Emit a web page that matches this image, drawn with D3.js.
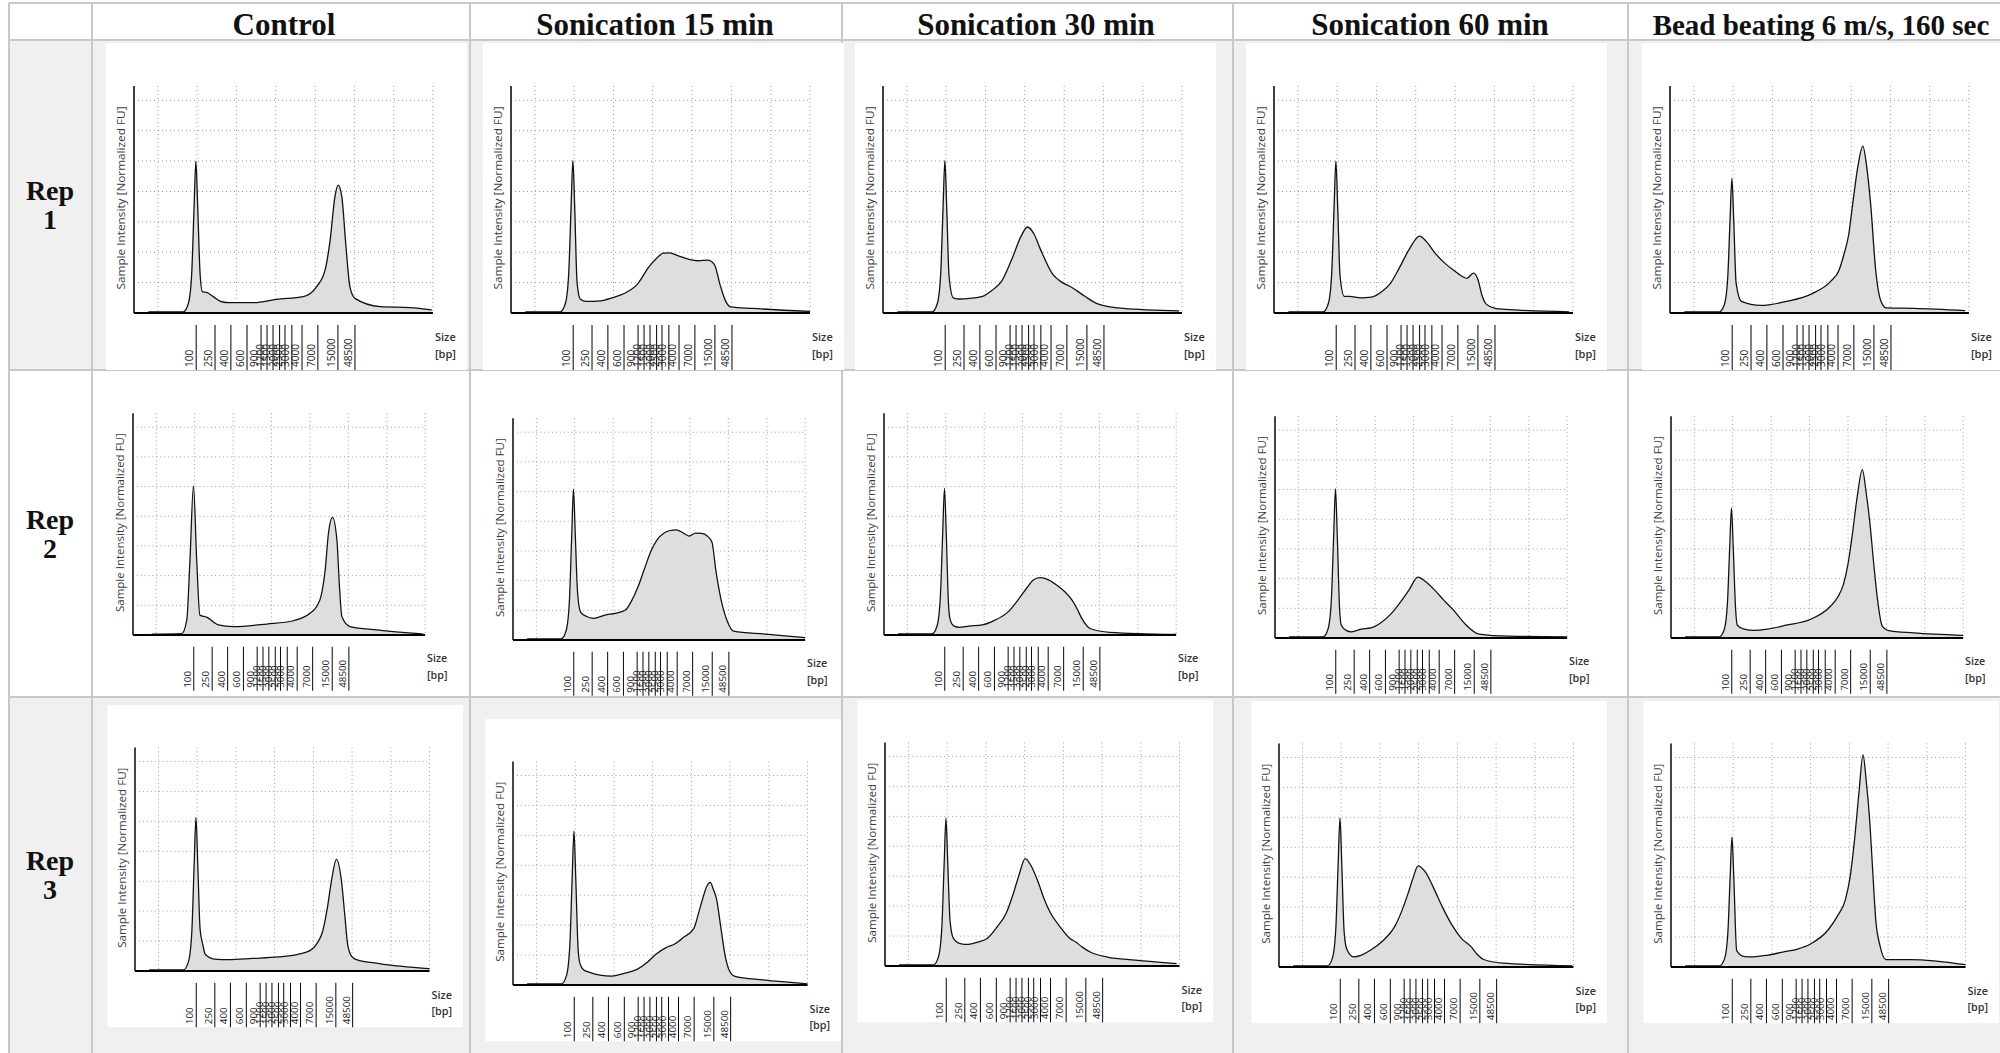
<!DOCTYPE html>
<html lang="en">
<head>
<meta charset="utf-8">
<style>
    body { margin: 0; background: #fff; }
    svg { display: block; }
    .head { font-family: "Liberation Serif", "Times New Roman", serif; font-weight: bold; fill: #111; }
    .ui { font-family: "Open Sans", "Noto Sans", sans-serif; }
    .grid { stroke: #9a9a9a; stroke-width: 1; stroke-dasharray: 1,3; fill: none; }
</style>
<script src="https://d3js.org/d3.v7.min.js"></script>
</head>
<body>
<svg width="2000" height="1053"></svg>
<script>
    // ---- data ----
    var conditions = ["Control", "Sonication 15 min", "Sonication 30 min", "Sonication 60 min", "Bead beating 6 m/s, 160 sec"];
    var replicates = ["1", "2", "3"];

    // genomic DNA ladder (bp) and where each band sits on the run axis (0-100)
    var ladderSizes = [100, 250, 400, 600, 900, 1200, 1500, 2000, 2500, 3000, 4000, 7000, 15000, 48500];
    var ladderRun = [20.8, 27.1, 32.4, 37.8, 42.5, 44.5, 46.5, 48.7, 50.5, 52.8, 56.2, 61.5, 68.2, 73.9];

    var gridRun = [8, 21.1, 34.3, 47.4, 60.6, 73.7, 86.9, 100];
    var gridFU = [1, 2, 3, 4, 5, 6, 7];

    // traces: [run position, normalized FU]
    var control1 = [[4.8,0.04],[16.5,0.04],[18.2,0.32],[19.3,1.3],[20.1,3.5],[20.7,5.0],[21.3,3.5],[22.1,1.3],[22.9,0.7],[24.3,0.68],[26.5,0.54],[29.3,0.37],[32.1,0.34],[39.9,0.34],[47.7,0.45],[56.6,0.54],[61.1,0.87],[63.9,1.41],[65.6,2.4],[67.2,3.83],[68.3,4.21],[69.5,3.83],[70.9,2.18],[72.2,0.87],[73.9,0.48],[82.3,0.21],[92.3,0.18],[99.6,0.1]];
    var son15Rep1 = [[4.8,0.04],[16.5,0.04],[18.2,0.32],[19.3,1.3],[20.1,3.5],[20.7,5.02],[21.3,3.5],[22.1,1.0],[23.2,0.45],[25.2,0.38],[30,0.4],[33.8,0.5],[38,0.65],[42.3,0.95],[46,1.5],[48.7,1.8],[51,1.97],[53,1.98],[56,1.88],[59.4,1.77],[62.5,1.72],[65.8,1.74],[68,1.6],[70,0.9],[72,0.35],[73.5,0.2],[80.8,0.15],[100,0.05]];
    var son30Rep1 = [[4.8,0.04],[16.5,0.04],[18.2,0.32],[19.3,1.3],[20.1,3.5],[20.7,5.02],[21.3,3.5],[22.1,1.2],[23.5,0.5],[25.6,0.46],[29,0.48],[33.3,0.55],[36.5,0.75],[39.7,1.05],[43,1.75],[46.2,2.53],[48.3,2.83],[50.5,2.6],[52.6,2.11],[56.8,1.27],[60,1.0],[63.2,0.84],[67.5,0.55],[71.8,0.3],[80.3,0.15],[99,0.07]];
    var son60Rep1 = [[4.8,0.04],[16.5,0.04],[18.2,0.32],[19.3,1.3],[20.1,3.5],[20.7,5.0],[21.3,3.5],[22.1,1.2],[23.5,0.55],[25.2,0.55],[29,0.5],[32.5,0.52],[36,0.7],[38.9,0.97],[42,1.5],[45.3,2.11],[48.7,2.53],[51,2.35],[53.8,1.98],[57,1.65],[60.3,1.39],[63,1.2],[64.5,1.14],[66.7,1.31],[68.2,1.1],[69.5,0.6],[70.9,0.3],[74,0.15],[77.4,0.12],[98.7,0.04]];
    var beadRep1 = [[4.8,0.04],[16.5,0.04],[18.2,0.28],[19.3,1.15],[20.1,3.1],[20.7,4.43],[21.3,3.1],[22.1,1.0],[23.9,0.38],[30.3,0.25],[38.9,0.38],[47.4,0.63],[53.8,1.05],[56.5,1.4],[58.1,1.9],[59.8,2.6],[61.1,3.59],[62.8,4.8],[64.5,5.49],[65.8,4.8],[67.1,3.59],[68.8,1.4],[70.5,0.4],[72.2,0.17],[81.6,0.15],[98.7,0.08]];

    var control2 = [[6.4,0.03],[16.7,0.05],[18.4,0.5],[19.5,2.53],[20.7,5.02],[21.8,2.53],[22.9,0.67],[25.2,0.6],[29.2,0.34],[34.3,0.28],[45.8,0.37],[54.9,0.48],[60.6,0.73],[62.8,0.95],[64.6,1.4],[65.8,2.2],[66.9,3.42],[68.3,3.96],[69.8,3.2],[70.7,1.6],[71.5,0.62],[74.3,0.28],[83.5,0.17],[99.4,0.03]];
    var son15Rep2 = [[4.8,0.04],[16.5,0.04],[18.2,0.32],[19.3,1.3],[20.1,3.5],[20.7,5.08],[21.3,3.6],[22.1,1.6],[23.1,0.95],[25,0.8],[27.5,0.73],[31.9,0.85],[35,0.9],[38.4,1.0],[40.5,1.3],[42.8,1.79],[45,2.4],[47.2,2.99],[49.5,3.4],[51.5,3.59],[53.5,3.68],[55.9,3.71],[58,3.62],[60.3,3.5],[62.5,3.6],[64.6,3.59],[66.5,3.5],[68.1,3.3],[69.5,2.3],[71.2,1.37],[73.5,0.6],[75.5,0.3],[86.5,0.2],[100,0.08]];
    var son30Rep2 = [[4.8,0.04],[16.5,0.04],[18.2,0.32],[19.3,1.3],[20.1,3.45],[20.7,4.94],[21.3,3.45],[22.1,1.0],[22.7,0.5],[24,0.3],[25.8,0.26],[29,0.3],[33.6,0.34],[38,0.5],[42.4,0.77],[46.7,1.29],[49,1.6],[51.1,1.85],[53.3,1.93],[56.5,1.85],[59.8,1.63],[62,1.45],[64.2,1.2],[66,0.9],[67.7,0.56],[70.7,0.21],[77.3,0.09],[100,0.02]];
    var son60Rep2 = [[4.8,0.04],[16.5,0.04],[18.2,0.32],[19.3,1.3],[20.1,3.5],[20.7,5.02],[21.3,3.5],[22.1,1.0],[22.7,0.43],[24.5,0.25],[26.2,0.21],[29.5,0.3],[32.8,0.34],[36,0.5],[39.3,0.77],[42.5,1.15],[45.9,1.62],[48.9,2.05],[51.5,1.9],[54.6,1.62],[58,1.25],[61.1,0.94],[63.5,0.65],[65.5,0.43],[69.9,0.13],[80,0.06],[100,0.04]];
    var beadRep2 = [[4.8,0.04],[16.5,0.04],[18.2,0.28],[19.3,1.14],[20.1,3.07],[20.7,4.38],[21.3,3.07],[22.1,1.0],[22.7,0.43],[25,0.3],[28.4,0.26],[33,0.3],[39.3,0.43],[48,0.64],[54.6,1.07],[57.2,1.4],[59,1.8],[60.6,2.5],[62,3.43],[63.8,4.8],[65.5,5.67],[66.8,4.9],[68.1,3.86],[69.4,2.5],[70.7,1.29],[72.3,0.4],[74.2,0.26],[83,0.17],[100,0.09]];

    var control3 = [[4.8,0.04],[16.5,0.04],[18.2,0.33],[19.3,1.33],[20.1,3.6],[20.7,5.13],[21.3,3.6],[22.1,1.4],[23,0.89],[23.9,0.55],[27,0.4],[31.6,0.38],[40,0.42],[48.7,0.47],[55,0.55],[59.4,0.68],[62,0.95],[63.7,1.32],[65.3,2.1],[66.7,3.01],[68.4,3.73],[70.1,3.01],[71.2,1.9],[72.2,0.89],[73.5,0.5],[75.2,0.38],[82.9,0.25],[100,0.08]];
    var son15Rep3 = [[4.8,0.04],[16.5,0.04],[18.2,0.33],[19.3,1.34],[20.1,3.6],[20.7,5.15],[21.3,3.6],[22.1,1.2],[22.7,0.73],[24,0.5],[25.8,0.43],[29.5,0.33],[33.5,0.3],[38,0.4],[42.1,0.52],[45.5,0.75],[48.5,1.03],[52,1.25],[54.9,1.37],[58,1.6],[61.4,1.89],[63,2.4],[64.4,2.88],[65.8,3.3],[67,3.43],[68,3.2],[69.1,2.88],[70.6,1.9],[72.1,0.94],[73.6,0.45],[75.1,0.3],[85,0.17],[100,0.04]];
    var son30Rep3 = [[4.8,0.04],[16.5,0.04],[18.2,0.32],[19.3,1.3],[20.1,3.45],[20.7,4.94],[21.3,3.45],[22.1,1.5],[23.2,0.93],[25.5,0.75],[28.3,0.72],[31.5,0.8],[34.8,0.93],[38,1.3],[41.2,1.77],[43.5,2.4],[45.5,3.04],[47.6,3.59],[49.6,3.35],[51.9,2.83],[54,2.25],[56.2,1.77],[59.5,1.3],[62.7,0.93],[64.8,0.8],[67,0.63],[70,0.45],[75.5,0.3],[85,0.2],[99,0.08]];
    var son60Rep3 = [[4.8,0.04],[16.5,0.04],[18.2,0.32],[19.3,1.3],[20.1,3.5],[20.7,4.98],[21.3,3.5],[22.1,1.2],[23,0.6],[25.3,0.34],[28,0.4],[30.9,0.55],[35,0.85],[39.5,1.39],[41.8,1.9],[43.8,2.45],[45.6,3.0],[47.2,3.38],[49.5,3.2],[52.4,2.66],[55.5,2.0],[58.8,1.39],[62,0.95],[65.2,0.68],[67.5,0.4],[69.5,0.25],[76,0.13],[99.6,0.04]];
    var beadRep3 = [[4.8,0.04],[16.5,0.04],[18.2,0.28],[19.3,1.13],[20.1,3.05],[20.7,4.35],[21.3,3.05],[22.3,0.55],[25,0.35],[27.9,0.34],[33,0.4],[38.6,0.51],[43,0.6],[47.2,0.76],[53.6,1.27],[56.5,1.7],[59.2,2.24],[60.8,3.0],[62.2,4.14],[63.8,5.8],[65.2,7.09],[66.3,6.2],[67.4,4.98],[68.5,3.2],[69.5,1.6],[71,0.7],[73,0.25],[81.5,0.25],[100,0.08]];

    var traces = [
        [control1, son15Rep1, son30Rep1, son60Rep1, beadRep1],
        [control2, son15Rep2, son30Rep2, son60Rep2, beadRep2],
        [control3, son15Rep3, son30Rep3, son60Rep3, beadRep3]
    ];

    // ---- layout ----
    var colEdges = [9, 92, 470, 842, 1233, 1628, 2000];
    var rowEdges = [3, 40, 370, 697, 1053];
    var headCenters = [284, 655, 1036, 1430, 1821];
    // [y-axis x, baseline y, scale] of each pasted electropherogram
    var panelPos = [
        [[134, 313, 1], [511, 313, 1], [883, 313, 1], [1274, 313, 1], [1670, 313, 1]],
        [[133, 635, 0.977], [513, 640, 0.977], [884, 635, 0.977], [1275, 638, 0.977], [1671, 638, 0.977]],
        [[135, 971, 0.985], [513, 985, 0.985], [885, 966, 0.985], [1279, 967, 0.985], [1671, 967, 0.985]]
    ];

    var svg = d3.select("svg");

    var x = d3.scaleLinear().domain([0, 100]).range([0, 299]);
    var y = d3.scaleLinear().domain([0, 7.47]).range([0, -227]);

    // shaded rows
    [1, 3].forEach(function(r) {
        svg.append("rect")
            .attr("x", colEdges[0]).attr("y", rowEdges[r])
            .attr("width", 2000 - colEdges[0]).attr("height", rowEdges[r + 1] - rowEdges[r])
            .attr("fill", "#f0f0f0");
    });

    // table rules
    colEdges.slice(0, 6).forEach(function(cx) {
        svg.append("line").attr("x1", cx).attr("x2", cx).attr("y1", rowEdges[0]).attr("y2", 1053)
            .attr("stroke", "#c8c8c8").attr("stroke-width", 2);
    });
    rowEdges.slice(0, 4).forEach(function(ry) {
        svg.append("line").attr("x1", colEdges[0]).attr("x2", 2000).attr("y1", ry).attr("y2", ry)
            .attr("stroke", "#c8c8c8").attr("stroke-width", 2);
    });

    // column headers
    svg.selectAll(".colhead")
        .data(conditions)
        .enter().append("text")
        .attr("class", "head")
        .attr("x", function(d, i) { return headCenters[i]; })
        .attr("y", 35)
        .attr("text-anchor", "middle")
        .attr("font-size", function(d, i) { return i == 4 ? "29px" : "31px"; })
        .text(function(d) { return d; });

    // row labels
    replicates.forEach(function(rep, r) {
        var cy = (rowEdges[r + 1] + rowEdges[r + 2]) / 2;
        var t = svg.append("text").attr("class", "head").attr("font-size", "28px").attr("text-anchor", "middle");
        t.append("tspan").attr("x", 50).attr("y", cy - 5).text("Rep");
        t.append("tspan").attr("x", 50).attr("y", cy + 24).text(rep);
    });

    var area = d3.area()
        .x(function(d) { return x(d[0]); })
        .y0(y(0))
        .y1(function(d) { return y(d[1]); })
        .curve(d3.curveMonotoneX);

    var line = d3.line()
        .x(function(d) { return x(d[0]); })
        .y(function(d) { return y(d[1]); })
        .curve(d3.curveMonotoneX);

    traces.forEach(function(row, r) {
        row.forEach(function(trace, c) {
            var p = panelPos[r][c];
            var g = svg.append("g")
                .attr("transform", "translate(" + p[0] + "," + p[1] + ") scale(" + p[2] + ")");
            var clipId = "clip" + r + "_" + c;
            g.append("clipPath").attr("id", clipId)
                .append("rect").attr("x", -28).attr("y", -270).attr("width", 361).attr("height", 327);
            g.append("rect").attr("x", -28).attr("y", -270).attr("width", 361).attr("height", 327)
                .attr("fill", "#fff");

            var inner = g.append("g").attr("clip-path", "url(#" + clipId + ")");

            inner.selectAll(".hgrid").data(gridFU).enter().append("line")
                .attr("class", "grid")
                .attr("x1", 4).attr("x2", x(100))
                .attr("y1", function(d) { return y(d); })
                .attr("y2", function(d) { return y(d); });
            inner.selectAll(".vgrid").data(gridRun).enter().append("line")
                .attr("class", "grid")
                .attr("x1", function(d) { return x(d); })
                .attr("x2", function(d) { return x(d); })
                .attr("y1", y(7.47)).attr("y2", 0);

            inner.append("path").datum(trace)
                .attr("d", area)
                .attr("fill", "#dedede");
            inner.append("path").datum(trace)
                .attr("d", line)
                .attr("fill", "none")
                .attr("stroke", "#111")
                .attr("stroke-width", 1.3);

            // axes
            inner.append("line").attr("x1", 0).attr("x2", 0).attr("y1", 0).attr("y2", y(7.47))
                .attr("stroke", "#000").attr("stroke-width", 1.5);
            inner.append("line").attr("x1", 0).attr("x2", x(100)).attr("y1", 0).attr("y2", 0)
                .attr("stroke", "#000").attr("stroke-width", 2);

            // ladder ticks
            inner.selectAll(".ltick").data(ladderRun).enter().append("line")
                .attr("x1", function(d) { return x(d); })
                .attr("x2", function(d) { return x(d); })
                .attr("y1", 12).attr("y2", 64)
                .attr("stroke", "#000").attr("stroke-width", 1);
            inner.selectAll(".llab").data(ladderSizes).enter().append("text")
                .attr("class", "ui")
                .attr("font-size", "10px")
                .attr("fill", "#222")
                .attr("transform", function(d, i) {
                    return "translate(" + (x(ladderRun[i]) - 3) + ",54) rotate(-90)";
                })
                .text(function(d) { return d; });

            inner.append("text").attr("class", "ui")
                .attr("x", 301).attr("y", 28)
                .attr("font-size", "11px").attr("font-weight", 600).attr("fill", "#333")
                .text("Size");
            inner.append("text").attr("class", "ui")
                .attr("x", 301).attr("y", 45)
                .attr("font-size", "11px").attr("font-weight", 600).attr("fill", "#333")
                .text("[bp]");

            inner.append("text").attr("class", "ui")
                .attr("transform", "translate(-9,-115) rotate(-90)")
                .attr("text-anchor", "middle")
                .attr("font-size", "11px")
                .attr("fill", "#3c3c3c")
                .attr("textLength", 183)
                .attr("lengthAdjust", "spacingAndGlyphs")
                .text("Sample Intensity [Normalized FU]");
        });
    });
</script>
</body>
</html>
